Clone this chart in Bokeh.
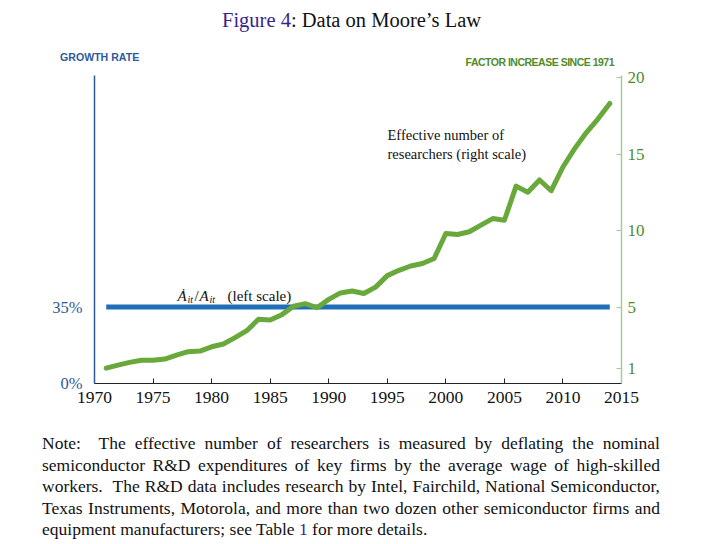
import html
from bokeh.plotting import figure
from bokeh.models import (Range1d, LinearAxis, FixedTicker, PrintfTickFormatter, Label, Div)
from bokeh.layouts import column
from bokeh.embed import file_html
from bokeh.resources import INLINE

# ---------------- data ----------------
years = list(range(1971, 2015))
researchers = [1.0, 1.2, 1.38, 1.52, 1.52, 1.6, 1.85, 2.08, 2.12, 2.4,
               2.58, 3.0, 3.45, 4.2, 4.15, 4.5, 5.05, 5.22, 4.95, 5.5,
               5.92, 6.05, 5.88, 6.3, 7.05, 7.4, 7.68, 7.84, 8.17, 9.8,
               9.74, 9.92, 10.35, 10.78, 10.67, 12.9, 12.5, 13.3, 12.6, 14.15,
               15.35, 16.4, 17.3, 18.3]
growth_years = [1971, 2014]
growth_rate = [35, 35]
x_ticks = [1970, 1975, 1980, 1985, 1990, 1995, 2000, 2005, 2010, 2015]
left_ticks = [0, 35]
right_ticks = [1, 5, 10, 15, 20]

title_colored = "Figure 4"
title_rest = ": Data on Moore\u2019s Law"
left_title = "GROWTH RATE"
right_title = "FACTOR INCREASE SINCE 1971"
green_note = ["Effective number of", "researchers (right scale)"]
blue_note_text = "(left scale)"
note_lines = [
    ["Note:", "The effective number of researchers is measured by deflating the nominal"],
    ["", "semiconductor R&D expenditures of key firms by the average wage of high-skilled"],
    ["workers.", "The R&D data includes research by Intel, Fairchild, National Semiconductor,"],
    ["", "Texas Instruments, Motorola, and more than two dozen other semiconductor firms and"],
]
note_last = ["equipment manufacturers; see Table", "1", "for more details."]

# ---------------- style ----------------
GREEN = "#69a83a"
GREEN_TXT = "#4f8c2c"
GREEN_AXIS = "#a9c996"
BLUE = "#1f6fb6"
BLUE_TXT = "#2d5a9a"
PURPLE = "#3b1f8c"
SERIF = "Liberation Serif"
SANS = "Liberation Sans"

W = 713
HEAD_H = 68
MAIN_H = 352
NOTE_H = 544 - HEAD_H - MAIN_H
# frame in page coordinates
FL, FR, FT, FB = 94, 621, 75, 383

top_val = (FB - FT) / 15.3

# ---------------- header (real HTML text) ----------------
e = html.escape
head_html = (
    f'<div style="position:relative;width:{W}px;height:{HEAD_H}px;">'
    f'<div style="position:absolute;left:222px;top:8px;line-height:24px;white-space:nowrap;'
    f'font-family:\'{SERIF}\';font-size:20.5px;color:#111;">'
    f'<span style="color:{PURPLE}">{e(title_colored)}</span>{e(title_rest)}</div>'
    f'<div style="position:absolute;left:60px;top:50px;line-height:14px;white-space:nowrap;'
    f'font-family:\'{SANS}\';font-weight:bold;font-size:10.6px;color:{BLUE_TXT};">{e(left_title)}</div>'
    f'<div style="position:absolute;right:{W - 614}px;top:55px;line-height:14px;white-space:nowrap;'
    f'font-family:\'{SANS}\';font-weight:bold;font-size:10.5px;letter-spacing:-0.5px;'
    f'color:{GREEN_TXT};">{e(right_title)}</div>'
    '</div>'
)
head = Div(text=head_html, width=W, height=HEAD_H, margin=(0, 0, 0, 0))

# ---------------- main chart ----------------
p = figure(width=W, height=MAIN_H, output_backend="svg", toolbar_location=None,
           x_range=Range1d(1970, 2015), y_range=Range1d(0, top_val),
           min_border_left=FL, min_border_right=W - FR,
           min_border_top=FT - HEAD_H, min_border_bottom=HEAD_H + MAIN_H - FB,
           x_axis_location=None, y_axis_location=None, margin=(0, 0, 0, 0))
p.extra_y_ranges = {"growth": Range1d(0, top_val * 7)}
p.outline_line_color = None
p.xgrid.visible = False
p.ygrid.visible = False

xa = LinearAxis(ticker=FixedTicker(ticks=x_ticks))
xa.major_tick_in = 5
xa.major_tick_out = 0
xa.minor_tick_line_color = None
xa.axis_line_color = "#222222"
xa.major_tick_line_color = "#222222"
xa.major_label_text_font = SERIF
xa.major_label_text_font_size = "17.5px"
xa.major_label_text_color = "#111111"
xa.major_label_standoff = 8
p.add_layout(xa, "below")

la = LinearAxis(y_range_name="growth", ticker=FixedTicker(ticks=left_ticks),
                formatter=PrintfTickFormatter(format="%d%%"))
la.major_tick_in = 0
la.major_tick_out = 0
la.minor_tick_line_color = None
la.axis_line_color = BLUE_TXT
la.axis_line_width = 1.5
la.major_label_text_font = SERIF
la.major_label_text_font_size = "16.5px"
la.major_label_text_color = BLUE_TXT
la.major_label_standoff = 12
p.add_layout(la, "left")

ra = LinearAxis(ticker=FixedTicker(ticks=right_ticks))
ra.major_tick_in = 5
ra.major_tick_out = 0
ra.minor_tick_line_color = None
ra.axis_line_color = GREEN_AXIS
ra.axis_line_width = 1.5
ra.major_tick_line_color = GREEN_AXIS
ra.major_label_text_font = SERIF
ra.major_label_text_font_size = "17px"
ra.major_label_text_color = GREEN_TXT
ra.major_label_standoff = 6
p.add_layout(ra, "right")

p.line(growth_years, growth_rate, y_range_name="growth", line_color=BLUE, line_width=5)
p.line(years, researchers, line_color=GREEN, line_width=5, line_join="round", line_cap="round")


def lab(px, py, text, **kw):
    opts = dict(text_baseline="middle", text_font=SERIF, text_font_size="16px",
                text_color="#111111")
    opts.update(kw)
    p.add_layout(Label(x=px - FL, y=FB - py, x_units="screen", y_units="screen",
                       text=text, **opts))


lab(387, 134, green_note[0], text_font_size="14.5px")
lab(387, 153, green_note[1], text_font_size="14.5px")
# A-dot_it / A_it
lab(177, 295, "\u0226", text_font_style="italic", text_font_size="15px")
lab(187, 299, "it", text_font_style="italic", text_font_size="10px")
lab(194, 295, "/", text_font_size="15px")
lab(199, 295, "A", text_font_style="italic", text_font_size="15px")
lab(209, 299, "it", text_font_style="italic", text_font_size="10px")
lab(227, 295, blue_note_text, text_font_size="15px")

# ---------------- note (real HTML text, justified) ----------------
line_h = 21.5
rows = []
for lead, rest in note_lines:
    txt = (e(lead) + "&nbsp; " + e(rest)) if lead else e(rest)
    rows.append(f'<div style="text-align:justify;text-align-last:justify;height:{line_h}px;">{txt}</div>')
rows.append(f'<div style="text-align:left;height:{line_h}px;">{e(note_last[0])} '
            f'<span style="color:{PURPLE}">{e(note_last[1])}</span> {e(note_last[2])}</div>')
note_html = (
    f'<div style="position:relative;width:{W}px;height:{NOTE_H}px;">'
    f'<div style="position:absolute;left:42px;top:13.25px;width:618px;'
    f'font-family:\'{SERIF}\';font-size:17.5px;line-height:{line_h}px;color:#111;">'
    + "".join(rows) + '</div></div>'
)
note = Div(text=note_html, width=W, height=NOTE_H, margin=(0, 0, 0, 0))

layout = column(head, p, note, spacing=0, margin=(0, 0, 0, 0))
open("out.html", "w").write(file_html(layout, INLINE))
